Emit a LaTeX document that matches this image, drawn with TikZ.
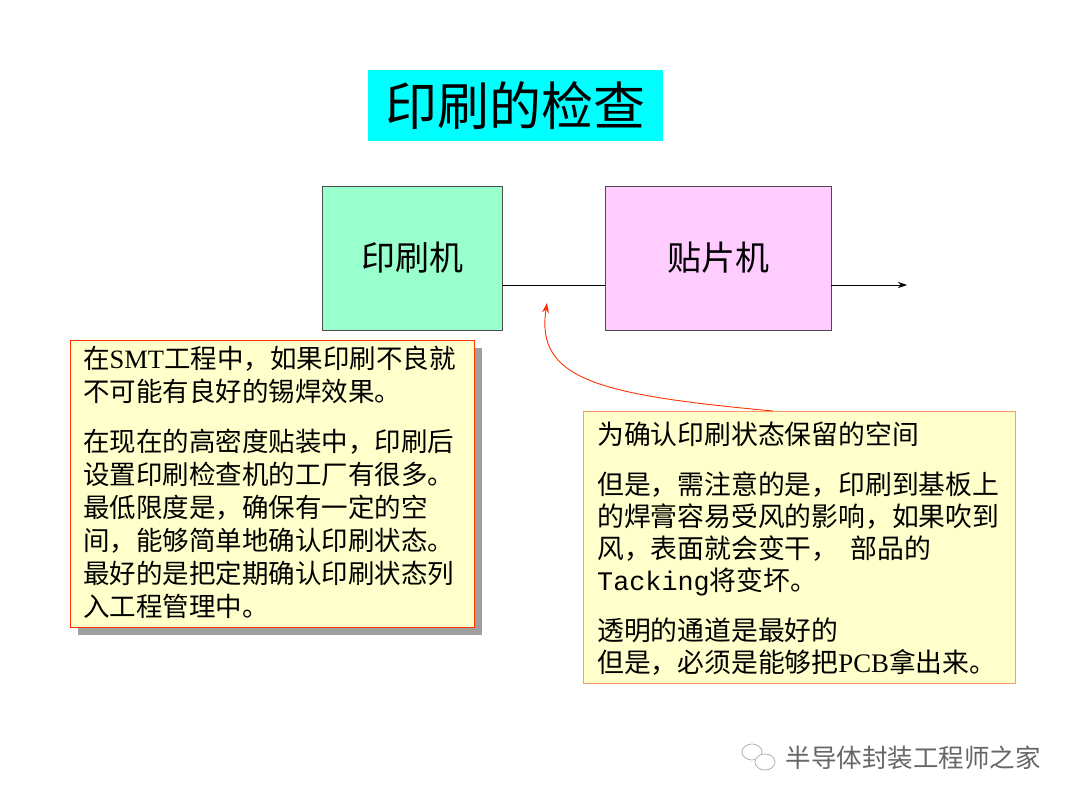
\documentclass[tikz,border=0pt]{standalone}
\usepackage{fontspec}
\setmainfont{Liberation Serif}
\newfontfamily\cjk{Noto Sans CJK SC}
\newfontfamily\mono{Liberation Mono}
\usetikzlibrary{arrows.meta}
\definecolor{cyanbg}{HTML}{00FFFF}
\definecolor{greenbg}{HTML}{99FFCC}
\definecolor{pinkbg}{HTML}{FFCCFF}
\definecolor{yellowbg}{HTML}{FFFFCC}
\definecolor{redline}{HTML}{FF3300}
\definecolor{orangeline}{HTML}{FF9966}
\tikzset{
  machine/.style={draw=black!70, line width=0.8pt, minimum height=144pt, font=\cjk\fontsize{34}{40}\selectfont},
  note/.style={anchor=north west, align=left, inner sep=0pt},
}
\begin{document}
\begin{tikzpicture}[x=1pt,y=-1pt]
\useasboundingbox (0,0) rectangle (1077,805);
% title
\node[fill=cyanbg, minimum width=295pt, minimum height=71pt, font=\cjk\fontsize{52}{56}\selectfont] (title) at (515.5,105.5) {印刷的检查};
% machines
\node[machine, fill=greenbg, minimum width=180pt] (printer) at (412,258) {印刷机};
\node[machine, fill=pinkbg, minimum width=226pt] (mounter) at (718,258) {贴片机};
\coordinate (pl) at (printer.east |- 0,285);
\coordinate (mr) at (mounter.west |- 0,285);
\coordinate (ml) at (mounter.east |- 0,285);
\coordinate (end) at (907,285);
\coordinate (chk) at (547,303);
\draw[line width=0.8pt] (pl) -- (mr);
\draw[line width=0.8pt, -{Stealth[length=9pt,width=6pt]}] (ml) -- (end);
% left note
\fill[gray!75] (78,348) rectangle (482,635);
\node[draw=redline, fill=yellowbg, line width=0.8pt, minimum width=404pt, minimum height=287pt, anchor=north west] (leftbox) at (70,340) {};
\node[note, font=\cjk\fontsize{26.5}{33}\selectfont] (lefttext) at (83,346) {在{\rmfamily SMT}工程中，如果印刷不良就\\不可能有良好的锡焊效果。\\[17pt]在现在的高密度贴装中，印刷后\\设置印刷检查机的工厂有很多。\\最低限度是，确保有一定的空\\间，能够简单地确认印刷状态。\\最好的是把定期确认印刷状态列\\入工程管理中。};
% right note
\node[draw=orangeline, fill=yellowbg, line width=0.8pt, minimum width=432pt, minimum height=272pt, anchor=north west] (rightbox) at (583,411) {};
\node[note, font=\cjk\fontsize{26.8}{32}\selectfont] (righttext) at (597,422) {为确认印刷状态保留的空间\\[18pt]但是，需注意的是，印刷到基板上\\的焊膏容易受风的影响，如果吹到\\风，表面就会变干，\ \ 部品的\\{\mono Tacking}将变坏。\\[18pt]透明的通道是最好的\\但是，必须是能够把{\rmfamily PCB}拿出来。};
\coordinate (src) at (773,411);
\draw[redline, line width=0.9pt, -{Stealth[length=10pt,width=7pt]}] (src) .. controls (600,395) and (535,380) .. (chk);
% watermark
\begin{scope}[draw=gray!60, line width=0.8pt]
\draw (752,752) ellipse (10pt and 8pt);
\draw[fill=white] (765,762) ellipse (10pt and 8pt);
\end{scope}
\node[anchor=west, text=gray!80!black, font=\cjk\fontsize{25.5}{28}\selectfont] (wm) at (782,758) {半导体封装工程师之家};
\end{tikzpicture}
\end{document}
